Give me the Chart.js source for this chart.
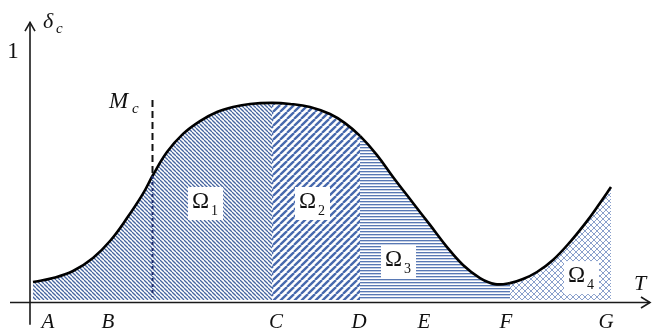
<!DOCTYPE html>
<html><head><meta charset="utf-8">
<script src="https://cdn.jsdelivr.net/npm/chart.js@4.4.1/dist/chart.umd.min.js"></script>
<style>html,body{margin:0;padding:0;background:#fff;overflow:hidden}canvas{display:block}</style>
</head><body>
<canvas id="c" width="652" height="330"></canvas>
<script>
// ---- data ----
const curveT = [3, 23, 43, 63, 80, 97, 113, 123, 137, 153, 170, 187, 203, 220, 242, 260, 280, 300, 315, 330, 347, 363, 383, 400, 417, 433, 450, 465, 480, 493, 507, 523, 540, 557, 570, 581];
const curveDelta = [0.079, 0.095, 0.123, 0.175, 0.242, 0.333, 0.43, 0.504, 0.595, 0.667, 0.718, 0.754, 0.774, 0.786, 0.790, 0.786, 0.774, 0.746, 0.710, 0.659, 0.583, 0.496, 0.393, 0.306, 0.218, 0.147, 0.095, 0.071, 0.075, 0.091, 0.119, 0.167, 0.238, 0.321, 0.393, 0.456];
const regionBounds = [3, 242, 330, 480, 582];       // A..C, C..D, D..F, F..G
const regionSubs = ['1', '2', '3', '4'];
const regionLabelT = [162, 269, 355, 538];
const regionLabelDelta = [0.373, 0.373, 0.143, 0.079];
const tickLabels = ['A', 'B', 'C', 'D', 'E', 'F', 'G'];
const tickT = [18, 78, 246, 329, 394, 476, 576];
const yTickLabels = ['1'];
const yTickValues = [1];
const mcT = 122.5;
const mcTop = 0.802;
const mcCurve = 0.5;
const fillBase = 0.008;

// ---- patterns ----
function mk(size, draw) {
  const c = document.createElement('canvas');
  c.width = size; c.height = size;
  const g = c.getContext('2d');
  draw(g, size);
  return g.createPattern(c, 'repeat');
}
function diag(color, lw, dir) {
  return (g, s) => {
    g.strokeStyle = color; g.lineWidth = lw;
    for (const k of [-s, 0, s]) {
      g.beginPath();
      if (dir > 0) { g.moveTo(k, 0); g.lineTo(k + s, s); }
      else { g.moveTo(k, s); g.lineTo(k + s, 0); }
      g.stroke();
    }
  };
}
const patterns = [
  mk(4, diag('#46659f', 1.3, 1)),
  mk(7, diag('#4668ad', 2.3, -1)),
  mk(3, (g, s) => { g.fillStyle = '#5878b4'; g.fillRect(0, 0, s, 1); g.fillStyle = 'rgba(88,120,180,0.35)'; g.fillRect(0, 1, s, 1); }),
  mk(6, (g, s) => { diag('#8aa0cc', 1, 1)(g, s); diag('#8aa0cc', 1, -1)(g, s); })
];
function regionOf(t) {
  for (let i = 0; i < regionBounds.length - 1; i++) if (t < regionBounds[i + 1] - 0.01) return i;
  return regionBounds.length - 2;
}

const pts = curveT.map((t, i) => ({ x: t, y: curveDelta[i] }));

const serif = '"Liberation Serif", "Times New Roman", Tinos, serif';

const decor = {
  id: 'decor',
  afterDatasetsDraw(chart) {
    const ctx = chart.ctx;
    const X = v => chart.scales.x.getPixelForValue(v);
    const Y = v => chart.scales.y.getPixelForValue(v);
    ctx.save();
    ctx.strokeStyle = '#1a1a1a';
    ctx.lineWidth = 1.6;
    const x0 = X(0), y0 = Y(0);
    ctx.beginPath();
    ctx.moveTo(X(-20), y0 + 0.5); ctx.lineTo(X(620), y0 + 0.5);
    ctx.moveTo(x0, Y(-0.09)); ctx.lineTo(x0, Y(1.11));
    ctx.stroke();
    ctx.beginPath();
    ctx.moveTo(X(611), y0 - 5); ctx.lineTo(X(620), y0 + 0.5); ctx.lineTo(X(611), y0 + 6);
    ctx.moveTo(x0 - 5, Y(1.075)); ctx.lineTo(x0, Y(1.11)); ctx.lineTo(x0 + 5, Y(1.075));
    ctx.stroke();

    ctx.fillStyle = '#111';
    ctx.textBaseline = 'alphabetic';
    ctx.font = 'italic 21px ' + serif;
    ctx.textAlign = 'center';
    tickLabels.forEach((l, i) => ctx.fillText(l, X(tickT[i]), 328));
    ctx.font = '23px ' + serif;
    yTickLabels.forEach((l, i) => ctx.fillText(l, 13, Y(yTickValues[i]) + 8));
    ctx.textAlign = 'left';
    ctx.font = 'italic 22px ' + serif;
    ctx.fillText('δ', 43, 28);
    ctx.font = 'italic 15px ' + serif;
    ctx.fillText('c', 56, 33);
    ctx.font = 'italic 23px ' + serif;
    ctx.fillText('M', 109, 108);
    ctx.font = 'italic 15px ' + serif;
    ctx.fillText('c', 132, 113);
    ctx.font = 'italic 22px ' + serif;
    ctx.fillText('T', 634, 290);
    regionSubs.forEach((s, i) => {
      const lx = X(regionLabelT[i]), by = Y(regionLabelDelta[i]);
      ctx.fillStyle = '#fff';
      ctx.fillRect(lx - 4, by - 21, 35, 33);
      ctx.fillStyle = '#111';
      ctx.font = '23px ' + serif;
      ctx.fillText('Ω', lx, by);
      const w = ctx.measureText('Ω').width;
      ctx.font = '14px ' + serif;
      ctx.fillText(s, lx + w + 2, by + 7);
    });
    ctx.restore();
  }
};

new Chart(document.getElementById('c'), {
  type: 'line',
  data: {
    datasets: [
      { data: [{ x: mcT, y: mcTop }, { x: mcT, y: mcCurve }], borderColor: '#111', borderWidth: 2, borderDash: [7, 4], pointRadius: 0, fill: false, order: 0 },
      { data: [{ x: mcT, y: mcCurve }, { x: mcT, y: 0.02 }], borderColor: '#1c2a6e', borderWidth: 2, borderDash: [3, 3], pointRadius: 0, fill: false, order: 1 },
      {
        data: pts, borderColor: '#000', borderWidth: 2.6, pointRadius: 0,
        tension: 0.4,
        fill: { value: fillBase },
        backgroundColor: patterns[0],
        segment: { backgroundColor: c => patterns[regionOf(c.p0.parsed.x)] },
        order: 2
      }
    ]
  },
  options: {
    responsive: false, animation: false, devicePixelRatio: 1,
    layout: { padding: 0 },
    plugins: { legend: { display: false }, tooltip: { enabled: false } },
    scales: {
      x: { type: 'linear', display: false, min: -30, max: 622 },
      y: { display: false, min: -28 / 252, max: 302 / 252 }
    }
  },
  plugins: [decor]
});
</script>
</body></html>
